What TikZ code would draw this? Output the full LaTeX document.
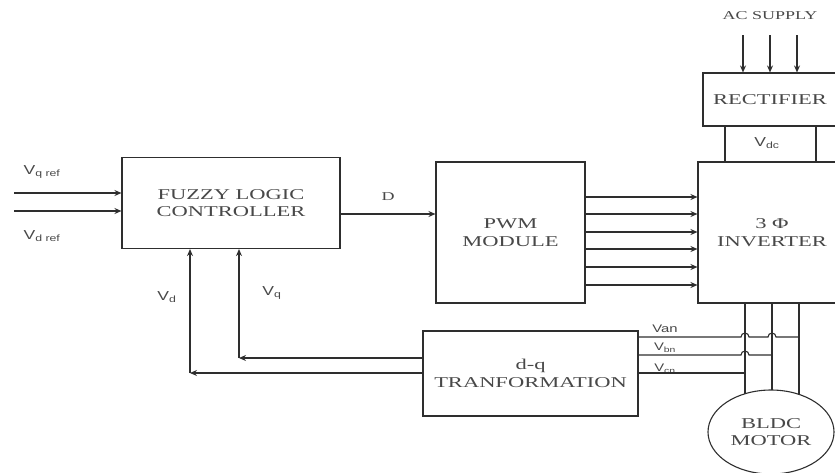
\documentclass[tikz,border=0pt]{standalone}
\usepackage{fontspec}
\setmainfont{Liberation Serif}
\setsansfont{Liberation Sans}
\newfontfamily\boxfont[FakeStretch=1.5]{Liberation Serif}
\newfontfamily\sigfont[FakeStretch=1.35]{Liberation Sans}
\usetikzlibrary{arrows.meta,shapes.geometric}
\definecolor{linecol}{HTML}{2E2E2E}
\definecolor{ink}{HTML}{484848}

\begin{document}
\begin{tikzpicture}[x=1pt,y=-1pt,color=linecol,line width=1.1pt,
  >={Stealth[length=7pt,width=6pt]},
  block/.style={draw,text=ink,align=center,inner sep=0pt,
    font=\boxfont\fontsize{15}{17.5}\selectfont},
  sig/.style={text=ink,inner sep=0pt,font=\sigfont\fontsize{13}{15}\selectfont},
  phase/.style={text=ink,inner sep=0pt,font=\sigfont\fontsize{11}{13}\selectfont},
  txt/.style={text=ink,inner sep=0pt,font=\boxfont\fontsize{12}{14}\selectfont}]
\useasboundingbox (0,0) rectangle (835,472);
\node[block,minimum width=218,minimum height=91] (flc) at (231,203) {FUZZY LOGIC\\CONTROLLER};
\node[block,minimum width=149,minimum height=141] (pwm) at (510.5,232.5) {PWM\\MODULE};
\node[block,minimum width=148,minimum height=141] (inv) at (772,232.5) {3 Φ\\INVERTER};
\node[block,minimum width=134,minimum height=53] (rect) at (770,99.5) {RECTIFIER};
\node[block,minimum width=215,minimum height=85] (dq) at (530.5,373.5) {d-q\\TRANFORMATION};
\node[block,ellipse,minimum width=126,minimum height=84] (motor) at (771,432) {BLDC\\MOTOR};
\node[sig] (vqref) at (42,172) {V\textsubscript{q ref}};
\node[sig] (vdref) at (42,236) {V\textsubscript{d ref}};
\node[sig] (vdlab) at (167,297) {V\textsubscript{d}};
\node[sig] (vqlab) at (272,293) {V\textsubscript{q}};
\node[sig] (vdclab) at (767,143) {V\textsubscript{dc}};
\node[txt] (dlab) at (388,197) {D};
\node[txt] (ac) at (770,16) {AC SUPPLY};
\node[phase] (van) at (665,329) {Van};
\node[phase] (vbn) at (665,348) {V\textsubscript{bn}};
\node[phase] (vcn) at (665,369) {V\textsubscript{cn}};
\coordinate (vq) at (14,193);
\coordinate (vd) at (14,211);
\coordinate (fq) at (239,358);
\coordinate (fd) at (190,373);
\draw[->] (vq) -- (vq -| flc.west);
\draw[->] (vd) -- (vd -| flc.west);
\draw[->] (flc.east |- 0,214) -- (pwm.west |- 0,214);
\foreach \y in {197,214,232,249,267,285}
  \draw[->] (pwm.east |- 0,\y) -- (inv.west |- 0,\y);
\foreach \x in {743,770,797}
  \draw[->] (\x,35) -- (rect.north -| \x,0);
\foreach \x in {725,816}
  \draw (rect.south -| \x,0) -- (inv.north -| \x,0);
\foreach \x/\e in {745/394,772/390,799/394.5}
  \draw (inv.south -| \x,0) -- (\x,\e);
\draw (dq.east |- 0,337) -- (741,337) arc[start angle=180,end angle=360,radius=4]
  -- (768,337) arc[start angle=180,end angle=360,radius=4] -- (799,337);
\draw (dq.east |- 0,355) -- (741,355) arc[start angle=180,end angle=360,radius=4] -- (772,355);
\draw (dq.east |- 0,373) -- (745,373);
\draw[->] (dq.west |- fq) -- (fq);
\draw[->] (fq) -- (fq |- flc.south);
\draw[->] (dq.west |- fd) -- (fd);
\draw[->] (fd) -- (fd |- flc.south);
\end{tikzpicture}
\end{document}
